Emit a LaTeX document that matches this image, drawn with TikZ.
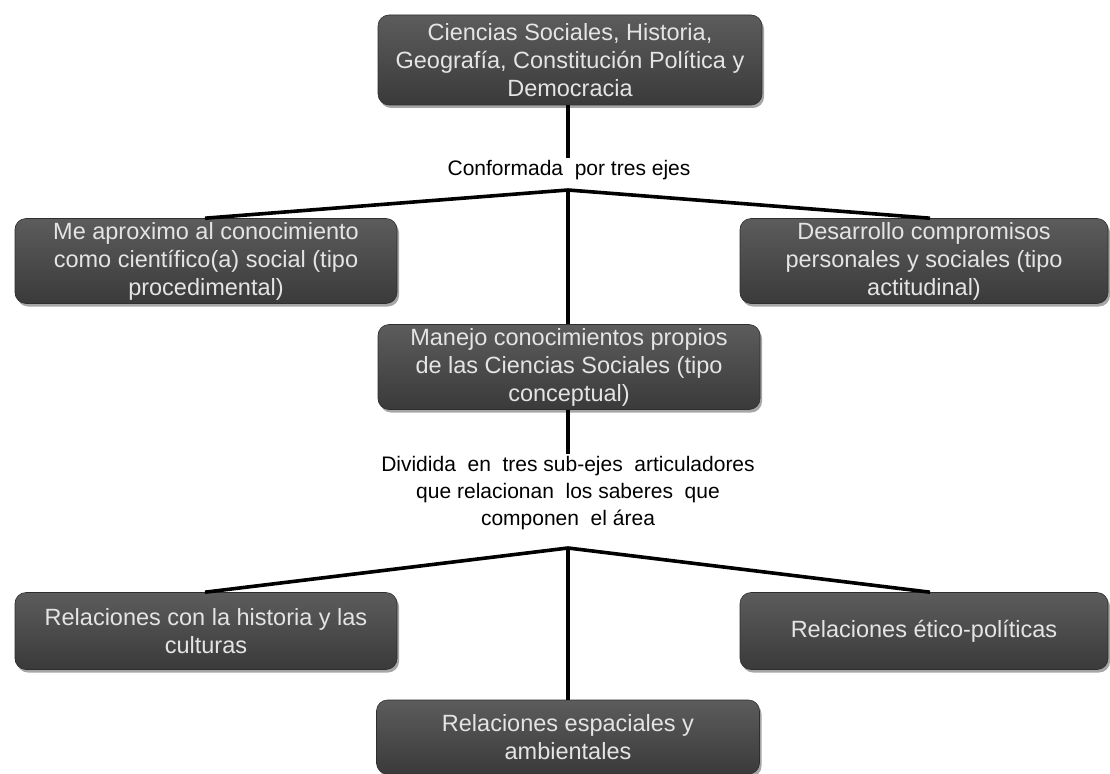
\documentclass[tikz,border=0pt]{standalone}
\usepackage{fontspec}
\setmainfont{Liberation Sans}
\usetikzlibrary{shadows}
\definecolor{boxtop}{HTML}{5C5C5C}
\definecolor{boxbot}{HTML}{3A3A3A}
\definecolor{boxtext}{HTML}{E4E4E4}
\tikzset{
  box/.style={rectangle, rounded corners=11pt, top color=boxtop, bottom color=boxbot,
    draw=boxbot!80!black, line width=0.6pt, text=boxtext, align=center,
    font=\fontsize{23.5}{28}\selectfont, inner sep=0pt,
    drop shadow={shadow xshift=2pt, shadow yshift=-3pt, opacity=0.35, fill=black}},
  lab/.style={align=center, font=\fontsize{21}{27}\selectfont, inner sep=2pt, text=black},
  conn/.style={line width=3.6pt, black}
}
\begin{document}
\begin{tikzpicture}[x=1pt,y=-1pt]
\useasboundingbox (0,0) rectangle (1110,773);
% boxes
\node[box, minimum width=384pt, minimum height=90pt] (top) at (570,60)
  {Ciencias Sociales, Historia,\\Geografía, Constitución Política y\\Democracia};
\node[box, minimum width=382pt, minimum height=85pt] (left) at (206,261)
  {Me aproximo al conocimiento\\como científico(a) social (tipo\\procedimental)};
\node[box, minimum width=368pt, minimum height=85pt] (right) at (924,261)
  {Desarrollo compromisos\\personales y sociales (tipo\\actitudinal)};
\node[box, minimum width=382pt, minimum height=85pt] (mid) at (569,367)
  {Manejo conocimientos propios\\de las Ciencias Sociales (tipo\\conceptual)};
\node[box, minimum width=382pt, minimum height=77pt] (bl) at (206,631)
  {Relaciones con la historia y las\\culturas};
\node[box, minimum width=368pt, minimum height=77pt] (br) at (924,631)
  {Relaciones ético-políticas};
\node[box, minimum width=383pt, minimum height=74pt] (bm) at (568,737)
  {Relaciones espaciales y\\ambientales};
% labels
\node[lab] (lab1) at (569,170) {Conformada\ \ por tres ejes};
\node[lab] (lab2) at (568,493)
  {Dividida\ \ en\ \ tres sub-ejes\ \ articuladores\\que relacionan\ \ los saberes\ \ que\\componen\ \ el área};
% junctions
\coordinate (j1) at (568,190);
\coordinate (j2) at (568,548);
% connectors
\draw[conn] (top.south -| j1) -- (lab1.north -| j1);
\draw[conn] (j1) -- ([xshift=-1pt]left.north);
\draw[conn] (j1) -- ([xshift=6pt]right.north);
\draw[conn] (j1) -- (mid.north -| j1);
\draw[conn] (mid.south -| j1) -- (lab2.north -| j1);
\draw[conn] (j2) -- ([xshift=-1pt]bl.north);
\draw[conn] (j2) -- ([xshift=6pt]br.north);
\draw[conn] (j2) -- (bm.north -| j2);
\end{tikzpicture}
\end{document}
